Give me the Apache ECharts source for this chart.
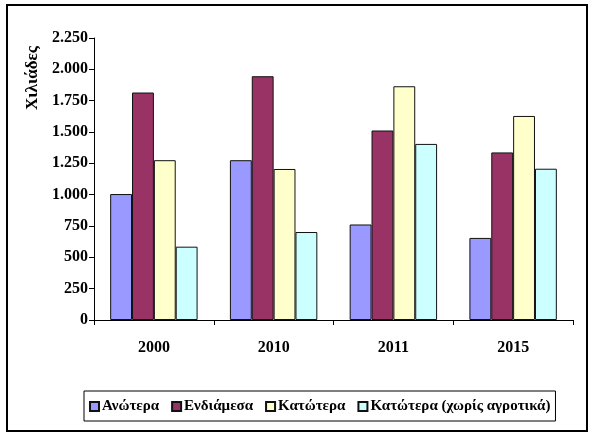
<!DOCTYPE html>
<html><head><meta charset="utf-8">
<script src="https://cdn.jsdelivr.net/npm/echarts@6/dist/echarts.min.js"></script>
<style>
html,body{margin:0;padding:0;background:#fff;}
#frame{position:absolute;left:6px;top:4px;width:578px;height:424px;border:2px solid #000;}
#c{position:absolute;left:0;top:0;width:592px;height:435px;}
</style></head>
<body><div id="frame"></div><div id="c"></div>
<script>
const categories = ['2000','2010','2011','2015'];
const seriesNames = ['Ανώτερα','Ενδιάμεσα','Κατώτερα','Κατώτερα (χωρίς αγροτικά)'];
const anotera = [1005, 1275, 762, 655];
const endiamesa = [1815, 1945, 1512, 1337];
const katotera = [1275, 1205, 1865, 1628];
const xorisAgrotika = [585, 702, 1405, 1207];
const yTicks = [0, 250, 500, 750, 1000, 1250, 1500, 1750, 2000, 2250];
const yTitle = 'Χιλιάδες';
const colors = ['#9999FF','#993366','#FFFFCC','#CCFFFF'];
const values = [anotera, endiamesa, katotera, xorisAgrotika];
const font = '"Liberation Serif", "DejaVu Serif", serif';

const chart = echarts.init(document.getElementById('c'));
chart.setOption({
  animation:false,
  textStyle:{fontFamily:font},
  grid:{left:94,right:19,top:38,bottom:115},
  graphic:[{
    type:'text', x:33, y:78, rotation:Math.PI/2,
    style:{text:yTitle, fontFamily:font, fontWeight:'bold', fontSize:17, fill:'#000',
      textAlign:'center', textVerticalAlign:'middle'}
  }],
  legend:{
    top:391, left:84,
    data:seriesNames,
    icon:'rect', itemWidth:9, itemHeight:9, itemGap:12,
    borderColor:'#000', borderWidth:1, padding:[8,5,7,5],
    textStyle:{fontFamily:font,fontWeight:'bold',fontSize:15,color:'#000',padding:[0,0,0,-2]}
  },
  xAxis:{
    type:'category', data:categories,
    axisLine:{lineStyle:{color:'#000',width:1}},
    axisTick:{show:true,length:5,lineStyle:{color:'#000'}},
    axisLabel:{margin:20,color:'#000',fontWeight:'bold',fontSize:16,fontFamily:font}
  },
  yAxis:{
    type:'value', min:yTicks[0], max:yTicks[yTicks.length-1], interval:250,
    axisLine:{show:true,lineStyle:{color:'#000',width:1}},
    axisTick:{show:true,length:5,lineStyle:{color:'#000'}},
    splitLine:{show:false},
    axisLabel:{color:'#000',fontWeight:'bold',fontSize:16,fontFamily:font,margin:6,
      formatter:v=>v.toString().replace(/\B(?=(\d{3})+(?!\d))/g,'.')}
  },
  series: seriesNames.map((n,i)=>({
    name:n, type:'bar', data:values[i],
    barGap:'0%', barCategoryGap:'27%',
    itemStyle:{color:colors[i],borderColor:'#111',borderWidth:1}
  }))
});
</script></body></html>
